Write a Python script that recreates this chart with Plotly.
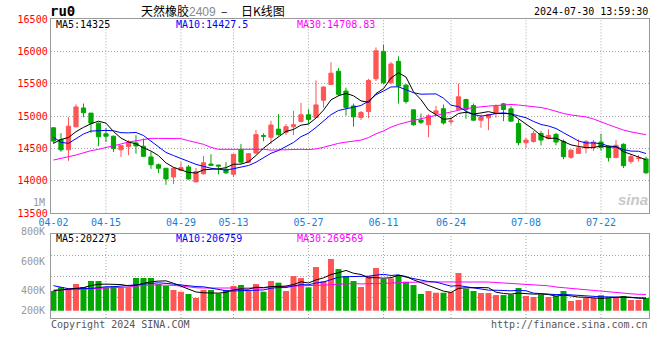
import plotly.graph_objects as go

# ---------------- data ----------------
dates = ["04-02","04-03","04-08","04-09","04-10","04-11","04-12","04-15","04-16","04-17",
         "04-18","04-19","04-22","04-23","04-24","04-25","04-26","04-29","04-30",
         "05-06","05-07","05-08","05-09","05-10","05-13","05-14","05-15","05-16","05-17",
         "05-20","05-21","05-22","05-23","05-24","05-27","05-28","05-29","05-30","05-31",
         "06-03","06-04","06-05","06-06","06-07","06-11","06-12","06-13","06-14","06-17",
         "06-18","06-19","06-20","06-21","06-24","06-25","06-26","06-27","06-28",
         "07-01","07-02","07-03","07-04","07-05","07-08","07-09","07-10","07-11","07-12",
         "07-15","07-16","07-17","07-18","07-19","07-22","07-23","07-24","07-25","07-26",
         "07-29","07-30"]

opens = [14820,14640,14480,14835,15126,15047,14892,14727,14690,14480,
         14530,14587,14535,14370,14250,14195,14060,14165,14215,13985,
         14110,14260,14245,14180,14103,14485,14290,14430,14700,14674,
         14800,14750,14837,14919,15021,14980,15245,15490,15694,15388,
         15158,14980,15072,15577,16000,15516,15847,15480,15097,14939,
         14868,15041,15115,14915,15103,15257,15164,14938,14975,15041,
         15190,15113,14887,14590,14610,14733,14656,14718,14610,14365,
         14425,14510,14515,14600,14535,14360,14565,14300,14345,14340]
highs = [14830,14737,14985,15184,15195,15050,14900,14820,14700,14550,
         14630,14705,14655,14450,14270,14200,14210,14290,14245,14200,
         14385,14410,14250,14290,14415,14572,14430,14786,14735,14929,
         15030,14878,15082,15204,15108,15551,15460,15832,15745,15440,
         15194,15080,15577,16061,16102,15837,15924,15490,15108,15040,
         15031,15160,15180,14975,15500,15270,15195,15026,15036,15180,
         15205,15154,14950,14666,14770,14770,14795,14744,14640,14485,
         14640,14630,14630,14728,14550,14630,14580,14415,14400,14375]
lows = [14575,14450,14310,14830,14985,14742,14536,14600,14445,14370,
        14395,14420,14370,14185,14120,13940,13950,14150,14020,13985,
        14100,14230,14100,14105,14060,14266,14280,14410,14613,14572,
        14700,14710,14710,14903,14878,14970,15133,15480,15311,15006,
        14837,14939,14970,15541,15490,15490,15194,15194,14852,14878,
        14674,15030,14870,14870,15090,14960,14923,14820,14784,14975,
        14923,14915,14550,14510,14590,14550,14640,14550,14335,14340,
        14420,14425,14465,14465,14300,14350,14200,14265,14300,14110]
closes = [14615,14480,14845,15142,15053,14892,14681,14690,14500,14545,
          14590,14540,14380,14250,14195,14030,14195,14205,14030,14145,
          14280,14240,14230,14125,14410,14290,14420,14715,14690,14863,
          14715,14837,14868,15021,14950,15174,15449,15663,15337,15133,
          14990,15056,15551,16010,15516,15806,15464,15225,14868,14905,
          15006,15082,14895,14925,15298,15103,14938,14985,15026,15154,
          15103,14923,14590,14631,14733,14631,14702,14600,14375,14475,
          14510,14610,14600,14515,14360,14550,14235,14375,14350,14125]
volumes_k = [322,382,365,436,387,485,485,382,403,382,
             382,534,534,534,436,403,338,311,273,207,
             338,338,283,338,403,420,322,436,311,485,
             458,322,567,534,382,714,485,845,681,567,
             485,387,567,698,518,529,583,474,420,273,
             322,294,294,305,616,360,322,289,289,256,
             256,267,371,240,223,267,223,240,322,158,
             174,207,207,251,218,218,240,174,174,207]

ma5_head = [14580, 14640, 14670, 14760]
ma10_head = [14673, 14596, 14580, 14657, 14724, 14770, 14780, 14780, 14775]
ma30_head = [14322,14343,14374,14400,14436,14467,14488,14513,14539,14570,
             14600,14621,14647,14657,14657,14657,14657,14652,14621,14590,
             14565,14518,14488,14488,14488,14488,14488,14488,14488]
vma5_head = [327, 338, 349, 360]
vma10_head = [409, 382, 360, 360, 360, 365, 376, 392, 392]
vma30_head = [338,338,338,343,349,360,365,371,376,376,
              387,403,414,420,420,420,414,403,387,376,
              371,371,365,365,365,365,365,365,371]

tick_dates = ["04-02","04-15","04-29","05-13","05-27","06-11","06-24","07-08","07-22"]
price_ticks = [13500, 14000, 14500, 15000, 15500, 16000, 16500]
vol_tick_labels = ["800K", "600K", "400K", "200K"]
price_legend = ["MA5:14325", "MA10:14427.5", "MA30:14708.83"]
vol_legend = ["MA5:202273", "MA10:206759", "MA30:269569"]
title_code = "ru0"
title_name = "天然橡胶"
title_contract = "2409"
title_tail = "日K线图"
timestamp = "2024-07-30 13:59:30"
copyright_text = "Copyright 2024 SINA.COM"
url_text = "http://finance.sina.com.cn"

# ---------------- helpers ----------------
def rolling(vals, n, head):
    out = list(head)
    for i in range(len(head), len(vals)):
        out.append(sum(vals[i - n + 1:i + 1]) / n)
    return out

n = len(dates)
xs = list(range(n))
ma5 = rolling(closes, 5, ma5_head)
ma10 = rolling(closes, 10, ma10_head)
ma30 = rolling(closes, 30, ma30_head)
vma5 = rolling(volumes_k, 5, vma5_head)
vma10 = rolling(volumes_k, 10, vma10_head)
vma30 = rolling(volumes_k, 30, vma30_head)

RED = "#ff5555"
GREEN = "#00a800"
BLUE = "#0000ff"
MAG = "#ff00ff"
GRID = "#a8a8a8"
BORDER = "#9a9a9a"
MONO = "DejaVu Sans Mono"
W, H = 660, 360

def px(x):
    return x / W

def py(y):
    return 1 - y / H

bar_colors = [RED if c >= o else GREEN for o, c in zip(opens, closes)]

fig = go.Figure()
fig.add_trace(go.Candlestick(
    x=xs, open=opens, high=highs, low=lows, close=closes,
    increasing=dict(line=dict(color=RED, width=1), fillcolor=RED),
    decreasing=dict(line=dict(color=GREEN, width=1), fillcolor=GREEN),
    whiskerwidth=0, hoverinfo="skip", xaxis="x", yaxis="y", showlegend=False))
for vals, col in [(ma30, MAG), (ma10, BLUE), (ma5, "#000000")]:
    fig.add_trace(go.Scatter(x=xs, y=vals, mode="lines", line=dict(color=col, width=1),
                             hoverinfo="skip", xaxis="x", yaxis="y", showlegend=False))

fig.add_trace(go.Bar(x=xs, y=volumes_k, marker=dict(color=bar_colors, line=dict(width=0)),
                     width=0.8, hoverinfo="skip", xaxis="x2", yaxis="y2", showlegend=False))
for vals, col in [(vma30, MAG), (vma10, BLUE), (vma5, "#000000")]:
    fig.add_trace(go.Scatter(x=xs, y=vals, mode="lines", line=dict(color=col, width=1),
                             hoverinfo="skip", xaxis="x2", yaxis="y2", showlegend=False))

x_dom = [px(50.7), px(649.3)]
main_dom = [py(213.3), py(19)]
vol_dom = [py(318), py(234)]
x_range = [-0.37, n - 1 + 0.44]
vol_range = [-119, 1254]

tick_idx = [dates.index(d) for d in tick_dates]

axis_common = dict(showline=True, mirror=True, linecolor=BORDER, linewidth=1,
                   zeroline=False, ticks="", fixedrange=True, automargin=False)

fig.update_layout(
    width=W, height=H,
    margin=dict(l=0, r=0, t=0, b=0, autoexpand=False),
    paper_bgcolor="white", plot_bgcolor="white",
    boxgap=0.2,
    xaxis=dict(domain=x_dom, range=x_range, anchor="y", showgrid=False,
               tickvals=tick_idx, ticktext=tick_dates, rangeslider=dict(visible=False),
               tickfont=dict(family=MONO, size=10, color="#1a7dd7"), **axis_common),
    yaxis=dict(domain=main_dom, range=[price_ticks[0], price_ticks[-1]], anchor="x",
               tickvals=price_ticks, ticktext=[str(v) for v in price_ticks],
               showgrid=True, gridcolor=GRID, griddash="1px,2px", gridwidth=1,
               tickfont=dict(family=MONO, size=10, color="#ff0000"), **axis_common),
    xaxis2=dict(domain=x_dom, range=x_range, anchor="y2", showgrid=False,
                showticklabels=False, **axis_common),
    yaxis2=dict(domain=vol_dom, range=vol_range, anchor="x2", showticklabels=False,
                tickvals=[vol_range[0] + (vol_range[1] - vol_range[0]) * k / 4 for k in (1, 2, 3)],
                showgrid=True, gridcolor=GRID, griddash="1px,2px", gridwidth=1, **axis_common),
)

# vertical dotted grid lines at the dated ticks (not at the left border)
shapes = []
for t in tick_idx[1:]:
    for xr, yr in (("x", "y domain"), ("x2", "y2 domain")):
        shapes.append(dict(type="line", xref=xr, yref=yr, x0=t, x1=t, y0=0, y1=1,
                           line=dict(color=GRID, width=1, dash="1px,2px"), layer="below"))
fig.update_layout(shapes=shapes)

ann = []
def text(x, y, s, color="#000", size=10, family=MONO, xanchor="left", **kw):
    ann.append(dict(x=px(x), y=py(y), xref="paper", yref="paper", text=s, showarrow=False,
                    xanchor=xanchor, yanchor="middle",
                    font=dict(family=family, size=size, color=color), **kw))

# header
text(48, 11, "<b>" + title_code + "</b>", size=14)
text(139, 10, title_name + "<span style='color:#888888;font-family:Liberation Sans'>" + title_contract
     + "</span>", size=12, family="Noto Sans CJK SC")
text(219, 10, "–", size=12, family="Noto Sans CJK SC")
text(239, 10, title_tail, size=12, family="Noto Sans CJK SC")
text(650, 12, timestamp, xanchor="right")

# legends
leg_x = [54, 174, 295]
for s, col, x in zip(price_legend, ["#000000", BLUE, MAG], leg_x):
    text(x, 24.5, s, color=col)
for s, col, x in zip(vol_legend, ["#000000", BLUE, MAG], leg_x):
    text(x, 238, s, color=col)

# volume axis labels and extras
for s, y in zip(vol_tick_labels, [231, 261, 290, 310]):
    text(47, y, s, color="#999999", xanchor="right")
text(47, 202, "1M", color="#999999", xanchor="right")
text(49, 324, copyright_text, color="#555555")
text(650, 324, url_text, color="#555555", xanchor="right")
text(650, 199, "<b><i>sina</i></b>", color="#c8c8c8", size=15, family="Liberation Sans",
     xanchor="right")

fig.update_layout(annotations=ann)
fig.write_html("out.html",
               config={"displayModeBar": False, "staticPlot": True},
               post_script="document.body.style.margin='0';document.body.style.overflow='hidden';")
